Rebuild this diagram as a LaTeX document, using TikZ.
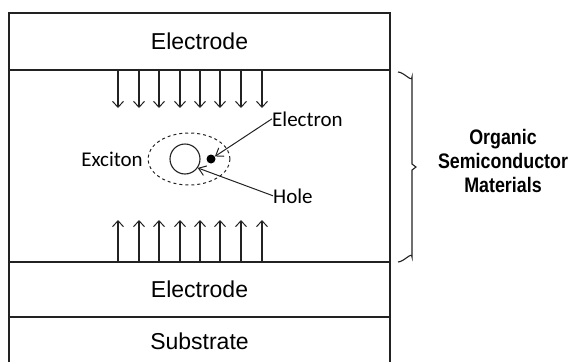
\documentclass[tikz,border=0pt]{standalone}
\usepackage{fontspec}
\setmainfont{Liberation Sans}
\newfontfamily\labelfont{Carlito}
\newfontfamily\sidefont{Liberation Sans Bold}[FakeStretch=0.85]
\usepackage{tikz}
\usetikzlibrary{shapes.geometric,arrows.meta,positioning}
\definecolor{inkgray}{HTML}{222222}
\tikzset{
  layer/.style={rectangle, draw=inkgray, line width=1.2pt, minimum width=381pt, outer sep=0pt, align=center, font=\fontsize{23}{27}\selectfont},
  field/.style={draw=inkgray, line width=1.1pt, -{Straight Barb[length=6pt,width=11pt,line width=1pt]}},
  pointer/.style={draw=inkgray, line width=1pt, -{Straight Barb[length=7pt,width=10pt,line width=1pt]}},
  tag/.style={inner sep=0pt, font=\labelfont\fontsize{21}{25}\selectfont},
}

\begin{document}
\begin{tikzpicture}[x=1pt,y=-1pt,node distance=0pt]
  \useasboundingbox (0,0) rectangle (574,362);
  \clip (0,0) rectangle (574,362);
  % device stack
  \node[layer,minimum height=57pt] (topel) at (199.5,41.5) {Electrode};
  \node[layer,minimum height=192pt,below=of topel] (organic) {};
  \node[layer,minimum height=55pt,below=of organic] (botel) {Electrode};
  \node[layer,minimum height=48pt,below=of botel] (substrate) {Substrate};
  % field arrows
  \foreach \x in {118,139,159,180,200,220,241,262} {
    \draw[field] (\x,70) -- (\x,108);
    \draw[field] (\x,262) -- (\x,220);
  }
  % exciton
  \node[ellipse,draw=inkgray,dashed,line width=1pt,minimum width=82pt,minimum height=52pt] (exciton) at (189,159) {};
  \node[circle,draw=inkgray,line width=1.1pt,minimum size=30pt,inner sep=0pt] (hole) at (185,159) {};
  \node[circle,fill=black,minimum size=9pt,inner sep=0pt] (electron) at (211,159) {};
  \node[tag,anchor=base east] (excitonlbl) at (143,166) {Exciton};
  \node[tag,anchor=base west] (electronlbl) at (272,126) {Electron};
  \node[tag,anchor=base west] (holelbl) at (273,203) {Hole};
  \draw[pointer] (electronlbl.west) -- (electron);
  \draw[pointer] (holelbl.west) -- (hole.-35);
  % brace
  \coordinate (bracetop) at (398,72);
  \coordinate (bracebot) at (398,262);
  \draw[inkgray,line width=1.1pt] (bracetop) to[out=0,in=-90] ++(14,5) -- ++(0,87) -- ++(4,3)
    -- ++(-4,3) -- ++(0,87) to[out=90,in=0] (bracebot);
  \node[align=center,font=\sidefont\fontsize{21}{24}\selectfont] (osm) at (503,161) {Organic\\Semiconductor\\Materials};
\end{tikzpicture}
\end{document}
